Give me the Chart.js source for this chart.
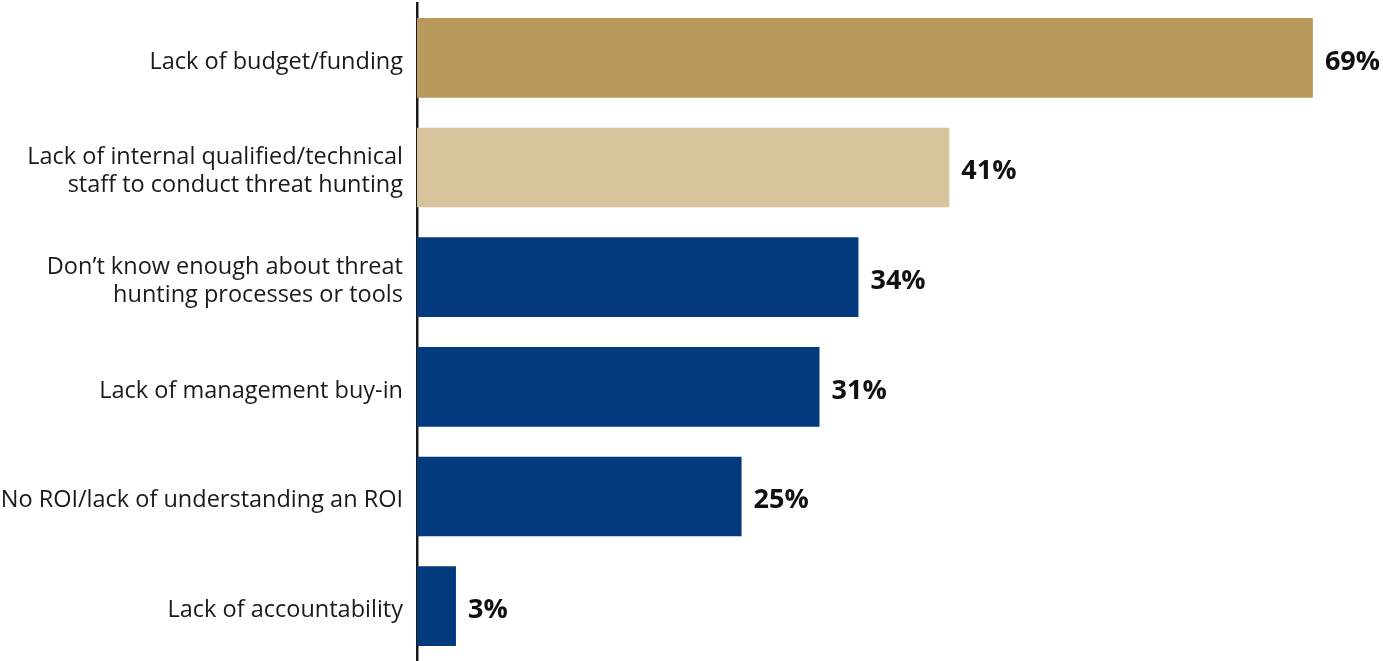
<!DOCTYPE html>
<html>
<head>
<meta charset="utf-8">
<script src="https://cdn.jsdelivr.net/npm/chart.js@4"></script>
<style>
  html, body { margin: 0; padding: 0; background: #fff; }
  #wrap { width: 1383px; height: 661px; position: relative; }
</style>
</head>
<body>
<div id="wrap"><canvas id="grafico"></canvas></div>
<script>
const categorias = [
  "Lack of budget/funding",
  ["Lack of internal qualified/technical", "staff to conduct threat hunting"],
  ["Don\u2019t know enough about threat", "hunting processes or tools"],
  "Lack of management buy-in",
  "No ROI/lack of understanding an ROI",
  "Lack of accountability"
];
const valores = [69, 41, 34, 31, 25, 3];
const cores = ["#B89A5C", "#D7C39C", "#023A7D", "#023A7D", "#023A7D", "#023A7D"];

// rótulos de porcentagem ao lado de cada barra
const rotulos = {
  id: "rotulos",
  afterDatasetsDraw(chart) {
    const { ctx } = chart;
    const meta = chart.getDatasetMeta(0);
    ctx.save();
    ctx.font = "bold 27px 'Open Sans', sans-serif";
    ctx.fillStyle = "#111";
    ctx.textAlign = "left";
    ctx.textBaseline = "middle";
    meta.data.forEach((bar, i) => {
      ctx.fillText(valores[i] + "%", bar.x + 12, bar.y + 4);
    });
    ctx.restore();
  }
};

new Chart(document.getElementById("grafico"), {
  type: "bar",
  data: {
    labels: categorias,
    datasets: [{
      data: valores,
      backgroundColor: cores,
      borderWidth: 0,
      categoryPercentage: 1,
      barPercentage: 0.727
    }]
  },
  options: {
    indexAxis: "y",
    responsive: true,
    maintainAspectRatio: false,
    animation: false,
    layout: { padding: { top: 3, bottom: 0, left: 0, right: 0 } },
    plugins: {
      legend: { display: false },
      tooltip: { enabled: false }
    },
    scales: {
      x: {
        min: 0,
        max: 74.4,
        display: false,
        grid: { display: false }
      },
      y: {
        afterFit(scale) {
          scale.width = 417;
          scale.paddingTop = 0;
          scale.paddingBottom = 0;
        },
        grid: { display: false, drawTicks: false },
        border: { display: true, color: "#1a1a1a", width: 2.5 },
        ticks: {
          color: "#1a1a1a",
          padding: 14,
          labelOffset: 4,
          font: { size: 23.5, family: "'Open Sans', sans-serif", lineHeight: 1.2 }
        }
      }
    }
  },
  plugins: [rotulos]
});
</script>
</body>
</html>
